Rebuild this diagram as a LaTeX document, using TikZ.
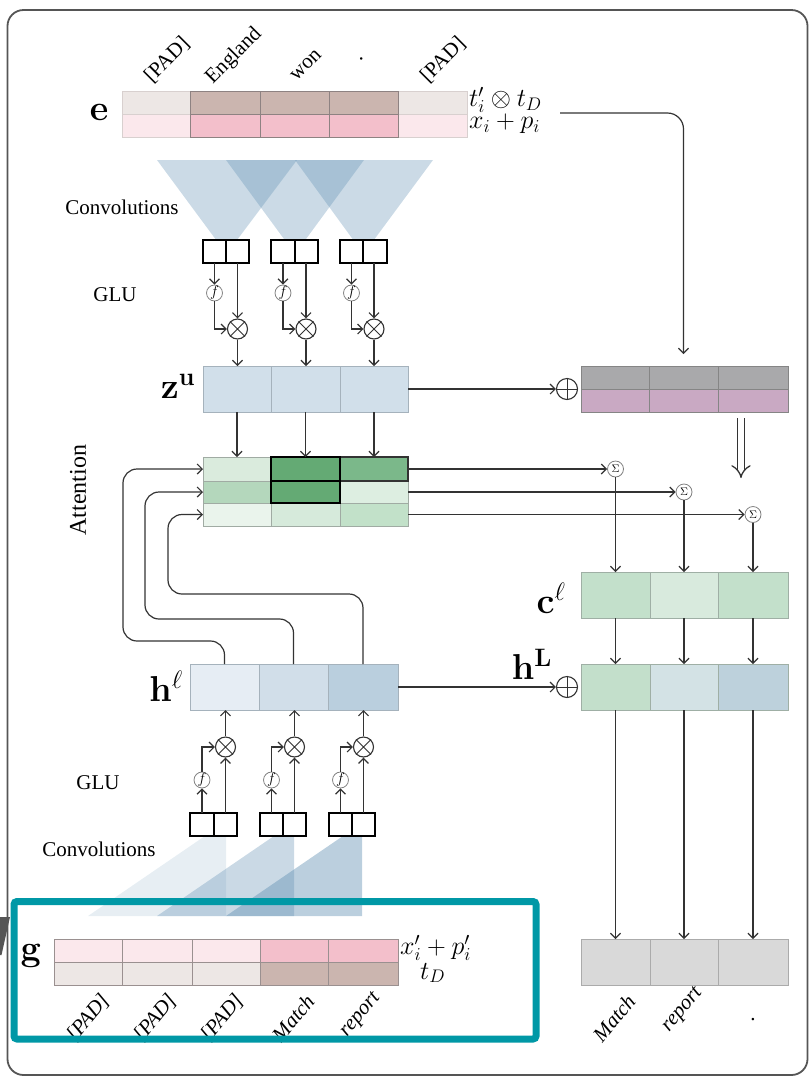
\RequirePackage{fix-cm}
\documentclass[tikz,border=0pt]{standalone}
\usepackage[no-math]{fontspec}
\setmainfont{Liberation Serif}
\usetikzlibrary{arrows.meta}
\definecolor{lc}{HTML}{333333}
\definecolor{framec}{HTML}{555555}
\definecolor{tealc}{HTML}{0098A6}
\definecolor{convc}{HTML}{5D8DB1}
\definecolor{beigeL}{HTML}{EDE7E5}
\definecolor{beigeD}{HTML}{CBB5AF}
\definecolor{pinkL}{HTML}{FBE8EC}
\definecolor{pinkD}{HTML}{F3BFCB}
\definecolor{lb}{HTML}{D8D0CF}
\definecolor{db}{HTML}{8E8282}
\definecolor{gbd}{HTML}{9A9090}
\definecolor{zuc}{HTML}{D1DFEA}
\definecolor{zub}{HTML}{A5B2BC}
\definecolor{grayT}{HTML}{A9A9AB}
\definecolor{mauve}{HTML}{C9A9C3}
\definecolor{gbb}{HTML}{858585}
\definecolor{aA}{HTML}{DAEBDD}
\definecolor{aB}{HTML}{B4D7BC}
\definecolor{aC}{HTML}{EAF4EC}
\definecolor{aD}{HTML}{D6EADB}
\definecolor{aE}{HTML}{C2E1C9}
\definecolor{aF}{HTML}{DDEEE1}
\definecolor{aG}{HTML}{7BB88A}
\definecolor{aH}{HTML}{64AA74}
\definecolor{ab}{HTML}{A0ABA3}
\definecolor{cA}{HTML}{C3E0CB}
\definecolor{cB}{HTML}{D8EADD}
\definecolor{hA}{HTML}{C3DFCB}
\definecolor{hB}{HTML}{D3E2E5}
\definecolor{hC}{HTML}{BDD1DC}
\definecolor{lA}{HTML}{E6EDF4}
\definecolor{lB}{HTML}{D1DEE9}
\definecolor{lC}{HTML}{BACFDE}
\definecolor{outc}{HTML}{D9D9D9}
\definecolor{outb}{HTML}{ABABAB}
\definecolor{cb}{HTML}{9FAFA5}
\begin{document}
\begin{tikzpicture}[x=1pt,y=-1pt,
  cell/.style={draw=#1, line width=1pt, inner sep=0pt, outer sep=0pt, anchor=north west},
  arr/.style={draw=lc, line width=1.2pt, -{Straight Barb[length=5pt,width=10pt,line width=1.2pt]}},
  ln/.style={draw=lc, line width=1pt},
  txt/.style={font=\fontsize{21}{21}\selectfont, inner sep=0pt},
  bl/.style={font=\fontsize{36}{36}\selectfont, inner sep=0pt},
  ml/.style={font=\fontsize{26}{26}\selectfont, inner sep=0pt},
  fc/.style={circle, draw=gray, line width=0.8pt, minimum size=15pt, inner sep=0pt, font=\fontsize{15}{15}\selectfont},
  sg/.style={circle, draw=gray, line width=0.8pt, minimum size=16pt, inner sep=0pt, font=\fontsize{11}{11}\selectfont},
  ox/.style={circle, draw=lc, line width=1.1pt, minimum size=20pt, inner sep=0pt, fill=white},
  tri/.style={fill=convc, fill opacity=#1},
]
\useasboundingbox (0,0) rectangle (810,1080);
\draw[framec, line width=1.8pt, rounded corners=16pt] (7.5,10) rectangle (807.5,1075);

% ---------- top convolution triangles
\fill[tri=0.32] (157,160) -- (297,160) -- (226.5,254) -- cycle;
\fill[tri=0.32] (226,160) -- (364,160) -- (295,254) -- cycle;
\fill[tri=0.32] (295,160) -- (433,160) -- (363.5,254) -- cycle;

% ---------- e row
\foreach \n/\xa/\w/\ct/\cbot/\bc in {1/122/68/beigeL/pinkL/lb, 5/398/69/beigeL/pinkL/lb, 2/190/70/beigeD/pinkD/db, 3/260/69/beigeD/pinkD/db, 4/329/69/beigeD/pinkD/db}{
  \node[cell=\bc, fill=\ct, minimum width=\w pt, minimum height=23pt] (et\n) at (\xa,91) {};
  \node[cell=\bc, fill=\cbot, minimum width=\w pt, minimum height=23pt] (eb\n) at (\xa,114) {};
}
\node[bl] (elab) at (99,112) {$\mathbf{e}$};
\node[ml, anchor=west] (tlab) at (469,100) {$t'_i\otimes t_D$};
\node[ml, anchor=west] (xlab) at (469,124) {$x_i+p_i$};
\coordinate (es) at (560,113);

% tokens top
\node[txt, rotate=45] (w1) at (167,60) {[PAD]};
\node[txt, rotate=45] (w2) at (234,56) {England};
\node[txt, rotate=45] (w3) at (306,65) {won};
\node[txt, rotate=45, anchor=base] (w4) at (362,60) {.};
\node[txt, rotate=45] (w5) at (443,60) {[PAD]};

\node[txt] (conv1) at (122,207) {Convolutions};
\node[txt] (glu1) at (115,295) {GLU};

% top box pairs
\foreach \n/\xa/\w in {L1/203/23, R1/226/23, L2/271/24, R2/295/23, L3/340/23, R3/363/24}
  \node[cell=black, fill=white, line width=1.2pt, minimum width=\w pt, minimum height=23pt] (tb\n) at (\xa,240) {};

% z^u
\foreach \n/\xa/\w in {1/203/68, 2/271/69, 3/340/68}
  \node[cell=zub, fill=zuc, minimum width=\w pt, minimum height=46pt] (zu\n) at (\xa,366) {};
\node[bl] (zlab) at (178,386) {$\mathbf{z}^{\mathbf{u}}$};

% top GLU
\foreach \i/\fx/\ox in {1/214.5/237.5, 2/283/306, 3/351.5/374}{
  \node[fc] (f\i) at (\fx,293) {$f$};
  \node[ox] (o\i) at (\ox,329) {};
  \draw[ln] (o\i.north east) -- (o\i.south west) (o\i.north west) -- (o\i.south east);
  \draw[arr] (tbL\i.south) -- (f\i.north);
  \draw[arr] (f\i.south) |- (o\i.west);
  \draw[arr] (tbR\i.south -| o\i.north) -- (o\i.north);
  \draw[arr] (o\i.south) -- (o\i.south |- zu\i.north);
}

% attention matrix
\foreach \n/\xa/\ya/\w/\h/\c/\b/\lw in {11/203/457/68/24/aA/ab/1pt, 21/203/481/68/22/aB/ab/1pt, 31/203/503/68/23/aC/ab/1pt, 32/271/503/69/23/aD/ab/1pt, 33/340/503/68/23/aE/ab/1pt, 23/340/481/68/22/aF/ab/1pt, 13/340/457/68/24/aG/lc/1.3pt, 12/271/457/69/24/aH/black/1.5pt, 22/271/481/69/22/aH/black/1.5pt}
  \node[cell=\b, fill=\c, line width=\lw, minimum width=\w pt, minimum height=\h pt] (a\n) at (\xa,\ya) {};
\foreach \i in {1,2,3}
  \draw[arr] (zu\i.south) -- (zu\i.south |- a1\i.north);
\node[font=\fontsize{24}{24}\selectfont, rotate=90, inner sep=0pt] (attlab) at (78,490) {Attention};

% right column boxes
\foreach \n/\xa/\w in {1/581/68, 2/649/69, 3/718/70}{
  \node[cell=gbb, fill=grayT, minimum width=\w pt, minimum height=23pt] (gt\n) at (\xa,366) {};
  \node[cell=gbb, fill=mauve, minimum width=\w pt, minimum height=23pt] (gb\n) at (\xa,389) {};
}
\node[circle, draw=lc, line width=1.1pt, minimum size=21pt, inner sep=0pt] (op1) at (567,389) {};
\draw[ln] (op1.north) -- (op1.south) (op1.west) -- (op1.east);
\draw[arr] (zu3.east) -- (zu3.east -| op1.west);
\draw[arr, rounded corners=16pt, shorten >=12pt] (es) -| (gt2.north);
\coordinate (da1) at (741,418);
\coordinate (da2) at (741,478);
\draw[lc, line width=1.3pt, double distance=5.5pt, -{Implies[length=10pt]}] (da1) -- (da2);

\foreach \n/\xa/\w/\c in {1/581/69/cA, 2/650/68/cB, 3/718/70/cA}
  \node[cell=cb, fill=\c, minimum width=\w pt, minimum height=46pt] (c\n) at (\xa,572) {};
\foreach \n/\xa/\w/\c in {1/581/69/hA, 2/650/68/hB, 3/718/70/hC}
  \node[cell=cb, fill=\c, minimum width=\w pt, minimum height=46pt] (hL\n) at (\xa,664) {};
\foreach \n/\xa/\w in {1/581/69, 2/650/68, 3/718/70}
  \node[cell=outb, fill=outc, minimum width=\w pt, minimum height=46pt] (out\n) at (\xa,939) {};
\node[bl] (clab) at (551,598) {$\mathbf{c}^{\ell}$};
\node[bl] (hLlab) at (532,664) {$\mathbf{h}^{\mathbf{L}}$};

% sigma nodes
\node[sg] (s1) at (615.5,469) {$\Sigma$};
\node[sg] (s2) at (684,492) {$\Sigma$};
\node[sg] (s3) at (753,514.5) {$\Sigma$};
\draw[arr] (a13.east) -- (a13.east -| s1.west);
\draw[arr] (a23.east) -- (a23.east -| s2.west);
\draw[arr] (a33.east) -- (a33.east -| s3.west);
\foreach \i in {1,2,3}{
  \draw[arr] (s\i.south) -- (s\i.south |- c\i.north);
  \draw[arr] (c\i.south) -- (hL\i.north);
  \draw[arr] (hL\i.south) -- (out\i.north);
}

% h^l
\foreach \n/\xa/\w/\c in {1/190/69/lA, 2/259/69/lB, 3/328/70/lC}
  \node[cell=zub, fill=\c, minimum width=\w pt, minimum height=46pt] (hl\n) at (\xa,664) {};
\node[bl] (hllab) at (166,686) {$\mathbf{h}^{\ell}$};
\node[circle, draw=lc, line width=1.1pt, minimum size=21pt, inner sep=0pt] (op2) at (567,687) {};
\draw[ln] (op2.north) -- (op2.south) (op2.west) -- (op2.east);
\draw[arr] (hl3.east) -- (hl3.east -| op2.west);

% attention input arcs
\draw[arr, rounded corners=14pt] (hl1.north) |- (123,641) |- (a11.west);
\draw[arr, rounded corners=14pt] (hl2.north) |- (145,619) |- (a21.west);
\draw[arr, rounded corners=14pt] (hl3.north) |- (168,594) |- (a31.west);

% bottom convolution triangles
\fill[tri=0.15] (88,916) -- (226,916) -- (226,821.6) -- cycle;
\fill[tri=0.33] (157,916) -- (294,916) -- (294,822.3) -- cycle;
\fill[tri=0.42] (226,916) -- (362,916) -- (362,823) -- cycle;

% bottom box pairs
\foreach \n/\xa/\w in {L1/190/24, R1/214/23, L2/260/23, R2/283/23, L3/329/23, R3/352/23}
  \node[cell=black, fill=white, line width=1.2pt, minimum width=\w pt, minimum height=23pt] (bb\n) at (\xa,813) {};

\node[txt] (glu2) at (98,783) {GLU};
\node[txt] (conv2) at (99,849) {Convolutions};

% bottom GLU
\foreach \i/\fx/\ox in {1/202/225.5, 2/271.5/294.5, 3/340.5/363.5}{
  \node[fc] (fb\i) at (\fx,780) {$f$};
  \node[ox] (ob\i) at (\ox,747) {};
  \draw[ln] (ob\i.north east) -- (ob\i.south west) (ob\i.north west) -- (ob\i.south east);
  \draw[arr] (bbL\i.north -| fb\i.south) -- (fb\i.south);
  \draw[arr] (fb\i.north) |- (ob\i.west);
  \draw[arr] (bbR\i.north -| ob\i.south) -- (ob\i.south);
  \draw[arr] (ob\i.north) -- (ob\i.north |- hl\i.south);
}

% g row
\foreach \n/\xa/\w/\ct/\cbot in {1/54/68/pinkL/beigeL, 2/122/70/pinkL/beigeL, 3/192/68/pinkL/beigeL, 4/260/68/pinkD/beigeD, 5/328/70/pinkD/beigeD}{
  \node[cell=gbd, fill=\ct, minimum width=\w pt, minimum height=23pt] (gt\n) at (\xa,939) {};
  \node[cell=gbd, fill=\cbot, minimum width=\w pt, minimum height=23pt] (gr\n) at (\xa,962) {};
}
\node[bl] (glab) at (31,956) {$\mathbf{g}$};
\node[ml, anchor=west] (xplab) at (400,948) {$x'_i+p'_i$};
\node[ml, anchor=west] (tdlab) at (420,973) {$t_D$};

% bottom tokens
\node[txt, rotate=50] (b1) at (88,1018) {\textit{[PAD]}};
\node[txt, rotate=50] (b2) at (155,1018) {\textit{[PAD]}};
\node[txt, rotate=50] (b3) at (222,1018) {\textit{[PAD]}};
\node[txt, rotate=50] (b4) at (293,1018) {\textit{Match}};
\node[txt, rotate=50] (b5) at (361,1015) {\textit{report}};
\node[txt, rotate=50] (r1) at (614,1018) {\textit{Match}};
\node[txt, rotate=50] (r2) at (683,1010) {\textit{report}};
\node[txt, anchor=base] (r3) at (753,1020) {.};

% highlight box and wedge
\draw[tealc, line width=7pt, rounded corners=3pt] (14,901.5) rectangle (536,1039);
\fill[framec] (0,917) -- (10,917) -- (1.5,955) -- (0,955) -- cycle;
\end{tikzpicture}
\end{document}
